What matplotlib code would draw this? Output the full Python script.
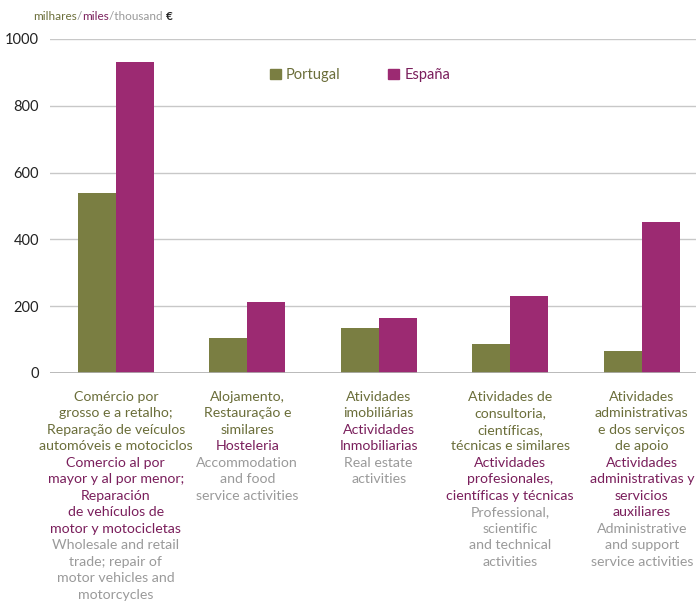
import matplotlib.pyplot as plt
from matplotlib.patches import Patch

plt.rcParams['font.family'] = ['Lato', 'DejaVu Sans']

portugal = [540, 106, 134, 87, 65]
espana = [931, 212, 166, 231, 452]

labels_pt = [
    ["Comércio por", "grosso e a retalho;", "Reparação de veículos", "automóveis e motociclos"],
    ["Alojamento,", "Restauração e", "similares"],
    ["Atividades", "imobiliárias"],
    ["Atividades de", "consultoria,", "científicas,", "técnicas e similares"],
    ["Atividades", "administrativas", "e dos serviços", "de apoio"],
]
labels_es = [
    ["Comercio al por", "mayor y al por menor;", "Reparación", "de vehículos de", "motor y motocicletas"],
    ["Hosteleria"],
    ["Actividades", "Inmobiliarias"],
    ["Actividades", "profesionales,", "científicas y técnicas"],
    ["Actividades", "administrativas y", "servicios", "auxiliares"],
]
labels_en = [
    ["Wholesale and retail", "trade; repair of", "motor vehicles and", "motorcycles"],
    ["Accommodation", "and food", "service activities"],
    ["Real estate", "activities"],
    ["Professional,", "scientific", "and technical", "activities"],
    ["Administrative", "and support", "service activities"],
]

c_pt = "#7a7e42"
c_es = "#9c2a72"
t_pt = "#6b6e3a"
t_es = "#7a1f5c"
t_en = "#9a9a9a"

fig = plt.figure(figsize=(6.96, 6.03), dpi=100)
ax = fig.add_axes([50 / 696, 230 / 603, 657.5 / 696, 334 / 603])

x = list(range(len(portugal)))
w = 0.289
ax.bar([i - w / 2 for i in x], portugal, width=w, color=c_pt, zorder=3)
ax.bar([i + w / 2 for i in x], espana, width=w, color=c_es, zorder=3)

ax.set_xlim(-0.5, 4.5)
ax.set_ylim(0, 1000)
ax.set_yticks(range(0, 1001, 200))
ax.yaxis.grid(True, color="#c8c8c8", linewidth=1, zorder=0)
ax.set_xticks([])
ax.tick_params(axis='y', length=0, pad=8, labelsize=10.5, labelcolor="#222222")
for s in ax.spines.values():
    s.set_visible(False)
ax.axhline(0, color="#b0b0b0", linewidth=1.2, zorder=4)

# category labels, three languages stacked
step = 11.9
for i in x:
    off = 17.0
    for lines, col in [(labels_pt[i], t_pt), (labels_es[i], t_es), (labels_en[i], t_en)]:
        for ln in lines:
            ax.annotate(ln, xy=(i, 0), xycoords=('data', 'axes fraction'),
                        xytext=(0, -off), textcoords='offset points',
                        ha='center', va='center', fontsize=10.2, color=col,
                        annotation_clip=False)
            off += step

handles = [Patch(color=c_pt, label="Portugal"), Patch(color=c_es, label="España")]
leg = ax.legend(handles=handles, loc='center', ncol=2, frameon=False,
                fontsize=10.5, handlelength=0.75, handleheight=0.75,
                handletextpad=0.35, columnspacing=3.3)
for t, col in zip(leg.get_texts(), [t_pt, t_es]):
    t.set_color(col)
leg.set_bbox_to_anchor((360 / 696, 1 - 75 / 603), transform=fig.transFigure)

# unit title in three colours
r = fig.canvas.get_renderer()
xpos = 33 / 696
for txt, col, wgt in [("milhares", t_pt, 'normal'), ("/", t_en, 'normal'),
                      ("miles", t_es, 'normal'), ("/thousand ", t_en, 'normal'),
                      ("€", "#222222", 'bold')]:
    t = fig.text(xpos, 1 - 16 / 603, txt, fontsize=8.5, color=col,
                 fontweight=wgt, va='center', ha='left')
    bb = t.get_window_extent(renderer=r)
    xpos += bb.width / fig.bbox.width

fig.savefig("out.png", dpi=100)
